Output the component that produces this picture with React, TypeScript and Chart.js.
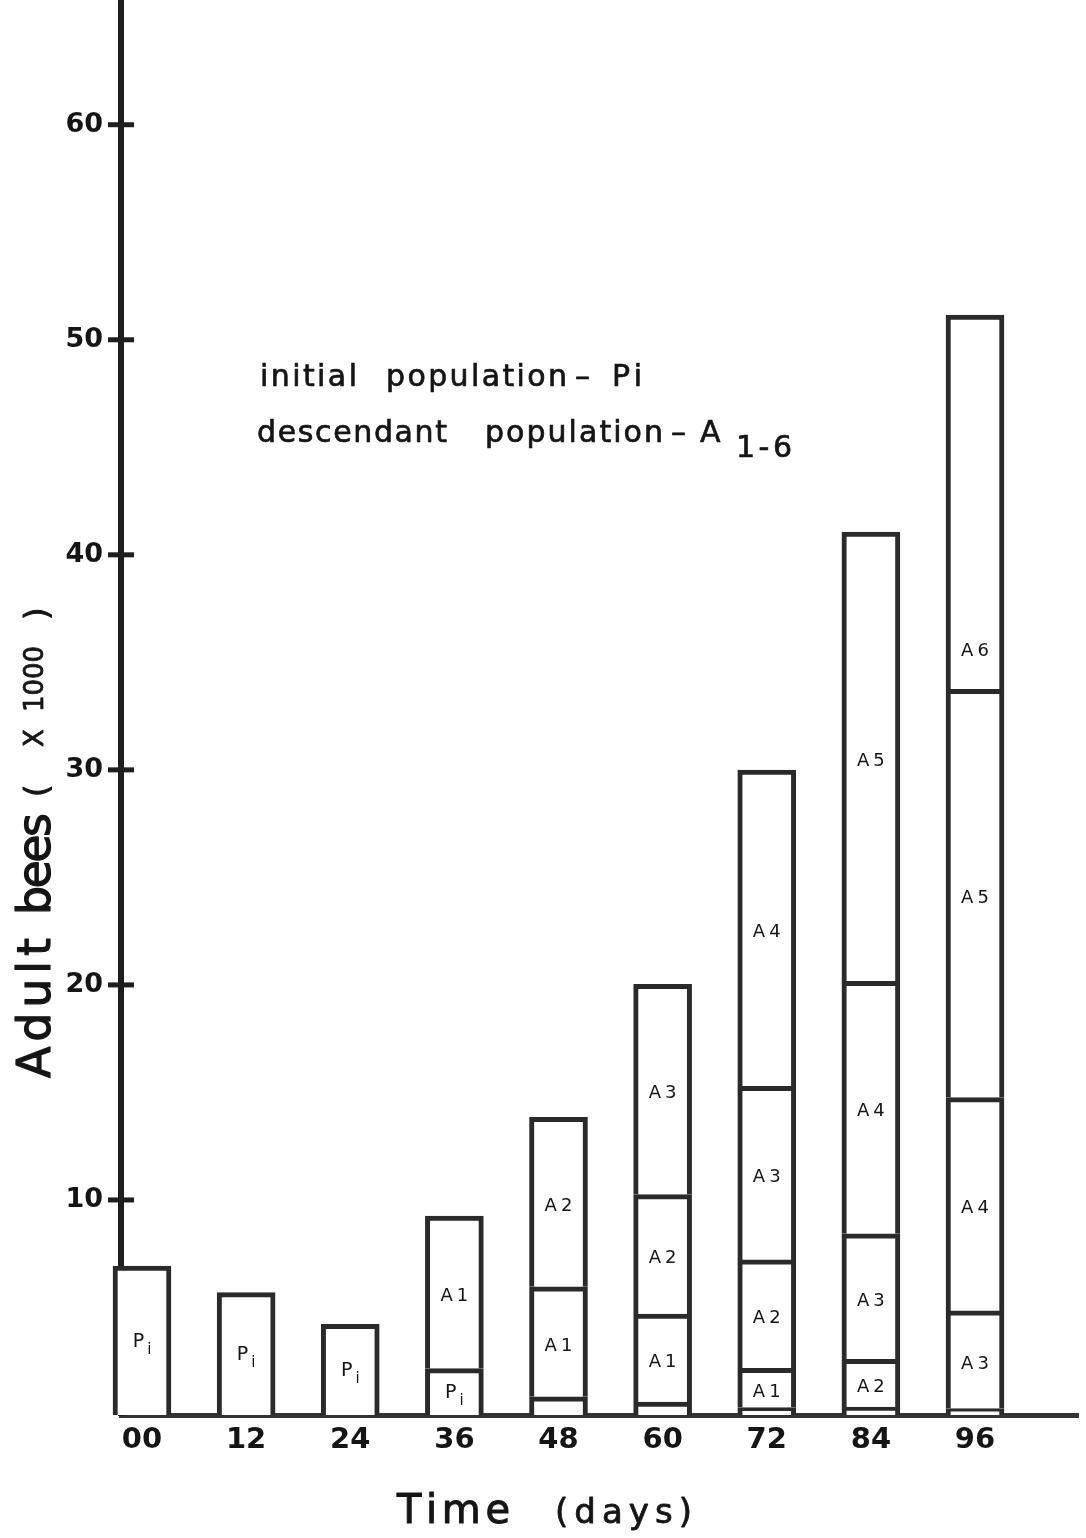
import React, { useEffect, useRef } from "react";
import { Chart, registerables } from "chart.js";

Chart.register(...registerables);

// ---- data (thousands of adult bees) ----
const days = [0, 12, 24, 36, 48, 60, 72, 84, 96];
const dayLabels = ["00", "12", "24", "36", "48", "60", "72", "84", "96"];
const yTickValues = [10, 20, 30, 40, 50, 60];

const seriesNames = ["Pi", "A1", "A2", "A3", "A4", "A5", "A6"];
const pi = [6.93, 5.69, 4.22, 2.16, 0.85, 0.6, 0.35, null, null];
const a1 = [null, null, null, 7.09, 5.11, 4.09, 1.82, 0.37, null];
const a2 = [null, null, null, null, 7.88, 5.56, 5.04, 2.22, 0.3];
const a3 = [null, null, null, null, null, 9.78, 8.07, 5.84, 4.54];
const a4 = [null, null, null, null, null, null, 14.71, 11.74, 9.92];
const a5 = [null, null, null, null, null, null, null, 20.89, 18.98];
const a6 = [null, null, null, null, null, null, null, null, 17.41];
const seriesValues = [pi, a1, a2, a3, a4, a5, a6];

// label anchor overrides (data units) where the original label is not centred
const labelAnchors: Record<string, number> = { "A6@96": 35.6 };

const FONT = '"DejaVu Sans", sans-serif';
const INK = "#151515";

function drawSpaced(
  ctx: CanvasRenderingContext2D,
  text: string,
  x: number,
  y: number,
  width: number,
  weight = 0.7
) {
  const chars = Array.from(text);
  const widths = chars.map((c) => ctx.measureText(c).width);
  const sum = widths.reduce((a, b) => a + b, 0);
  const extra = chars.length > 1 ? (width - sum) / (chars.length - 1) : 0;
  let cx = x;
  ctx.lineWidth = weight;
  ctx.strokeStyle = INK;
  ctx.lineJoin = "round";
  chars.forEach((c, i) => {
    ctx.fillText(c, cx, y);
    if (weight > 0) ctx.strokeText(c, cx, y);
    cx += widths[i] + extra;
  });
}

function drawSegLabel(ctx: CanvasRenderingContext2D, name: string, cx: number, cy: number) {
  ctx.textAlign = "left";
  ctx.textBaseline = "alphabetic";
  if (name === "Pi") {
    ctx.font = `19px ${FONT}`;
    const wP = ctx.measureText("P").width;
    ctx.font = `15px ${FONT}`;
    const wi = ctx.measureText("i").width;
    const total = wP + 3 + wi;
    const sx = cx - total / 2;
    ctx.font = `19px ${FONT}`;
    ctx.fillText("P", sx, cy + 4);
    ctx.font = `15px ${FONT}`;
    ctx.fillText("i", sx + wP + 3, cy + 11);
  } else {
    ctx.font = `18px ${FONT}`;
    const a = name.charAt(0);
    const d = name.slice(1);
    const wa = ctx.measureText(a).width;
    const wd = ctx.measureText(d).width;
    const gap = 4;
    const sx = cx - (wa + gap + wd) / 2;
    ctx.fillText(a, sx, cy + 6.5);
    ctx.fillText(d, sx + wa + gap, cy + 6.5);
  }
}

const overlayPlugin = {
  id: "overlay",
  afterDraw(chart: any) {
    const ctx: CanvasRenderingContext2D = chart.ctx;
    const xs = chart.scales.x;
    const ys = chart.scales.y;
    const axisX = chart.chartArea.left;
    ctx.save();

    // y tick marks crossing the axis
    ctx.strokeStyle = "#1e1e1e";
    ctx.lineWidth = 5;
    yTickValues.forEach((v) => {
      const py = ys.getPixelForValue(v);
      ctx.beginPath();
      ctx.moveTo(axisX - 13, py);
      ctx.lineTo(axisX + 13, py);
      ctx.stroke();
    });

    // segment labels
    ctx.fillStyle = INK;
    days.forEach((d, i) => {
      let cum = 0;
      seriesNames.forEach((name, k) => {
        const v = seriesValues[k][i];
        if (v == null) return;
        const bottom = cum;
        const top = cum + v;
        cum = top;
        if (v < 1) return;
        const yTop = ys.getPixelForValue(top) + 5;
        const yBot = ys.getPixelForValue(bottom);
        let cy = (yTop + yBot) / 2;
        const anchor = labelAnchors[`${name}@${d}`];
        if (anchor != null) cy = ys.getPixelForValue(anchor);
        drawSegLabel(ctx, name, xs.getPixelForValue(d), cy);
      });
    });

    // legend-like text block
    ctx.textAlign = "left";
    ctx.textBaseline = "alphabetic";
    ctx.font = `30px ${FONT}`;
    drawSpaced(ctx, "initial", 260, 386, 97);
    drawSpaced(ctx, "population", 386, 386, 181);
    drawSpaced(ctx, "–", 575, 386, 17);
    drawSpaced(ctx, "Pi", 612, 386, 30);
    drawSpaced(ctx, "descendant", 257, 442, 190);
    drawSpaced(ctx, "population", 485, 442, 178);
    drawSpaced(ctx, "–", 671, 442, 17);
    drawSpaced(ctx, "A", 700, 442, 28);
    drawSpaced(ctx, "1-6", 736, 457, 56);

    // x axis title
    ctx.font = `40px ${FONT}`;
    drawSpaced(ctx, "Time", 397, 1523, 113, 1);
    ctx.font = `34px ${FONT}`;
    drawSpaced(ctx, "(days)", 555, 1523, 137, 0.8);

    // y axis title (rotated)
    ctx.save();
    ctx.translate(50, 1078);
    ctx.rotate(-Math.PI / 2);
    ctx.font = `46px ${FONT}`;
    drawSpaced(ctx, "Adult", 0, 0, 140, 1.2);
    drawSpaced(ctx, "bees", 163, 0, 102, 1.2);
    ctx.font = `32px ${FONT}`;
    drawSpaced(ctx, "(", 281, -3, 12, 1);
    drawSpaced(ctx, ")", 458, -3, 12, 1);
    ctx.font = `26px ${FONT}`;
    drawSpaced(ctx, "X", 331, -7, 20, 0.8);
    drawSpaced(ctx, "1000", 366, -7, 66, 0.8);
    ctx.restore();

    ctx.restore();
  },
};

export default function App() {
  const canvasRef = useRef<HTMLCanvasElement | null>(null);

  useEffect(() => {
    const canvas = canvasRef.current;
    if (!canvas) return;
    const datasets = seriesNames.map((name, k) => ({
      label: name,
      data: days.map((d, i) => ({ x: d, y: seriesValues[k][i] })),
      backgroundColor: "#ffffff",
      borderColor: "#2a2a2a",
      borderWidth: 5,
      borderSkipped: "start" as const,
      barThickness: 58,
      grouped: false,
      clip: false as const,
    }));

    const chart = new Chart(canvas, {
      type: "bar",
      data: { datasets: datasets as any },
      options: {
        responsive: false,
        devicePixelRatio: 1,
        animation: false,
        layout: { padding: { top: 0, left: 0, right: 8, bottom: 0 } },
        plugins: { legend: { display: false }, tooltip: { enabled: false }, title: { display: false } },
        scales: {
          x: {
            type: "linear",
            offset: false,
            min: -2.42,
            max: 107.87,
            afterBuildTicks: (s: any) => {
              s.ticks = days.map((v) => ({ value: v }));
            },
            afterFit: (s: any) => {
              s.height = 123;
              s.paddingLeft = 0;
              s.paddingRight = 0;
            },
            ticks: {
              autoSkip: false,
              maxRotation: 0,
              padding: 8,
              color: INK,
              font: { family: "DejaVu Sans", size: 29, weight: "bold" },
              callback: (v: any) => {
                const idx = days.indexOf(Number(v));
                return idx >= 0 ? dayLabels[idx] : "";
              },
            },
            grid: { display: false, drawTicks: false },
            border: { display: true, color: "#333333", width: 5 },
          },
          y: {
            type: "linear",
            stacked: true,
            min: 0,
            max: 65.8,
            afterBuildTicks: (s: any) => {
              s.ticks = yTickValues.map((v) => ({ value: v }));
            },
            afterFit: (s: any) => {
              s.width = 121;
              s.paddingTop = 0;
              s.paddingBottom = 0;
            },
            ticks: {
              padding: 18,
              color: INK,
              font: { family: "DejaVu Sans", size: 27, weight: "bold" },
            },
            grid: { display: false, drawTicks: false },
            border: { display: true, color: "#1e1e1e", width: 6 },
          },
        },
      },
      plugins: [overlayPlugin],
    });
    return () => chart.destroy();
  }, []);

  return (
    <div style={{ position: "absolute", left: 0, top: 0, width: 1086, height: 1538, background: "#ffffff" }}>
      <canvas ref={canvasRef} width={1086} height={1538} style={{ display: "block", width: 1086, height: 1538 }} />
    </div>
  );
}
